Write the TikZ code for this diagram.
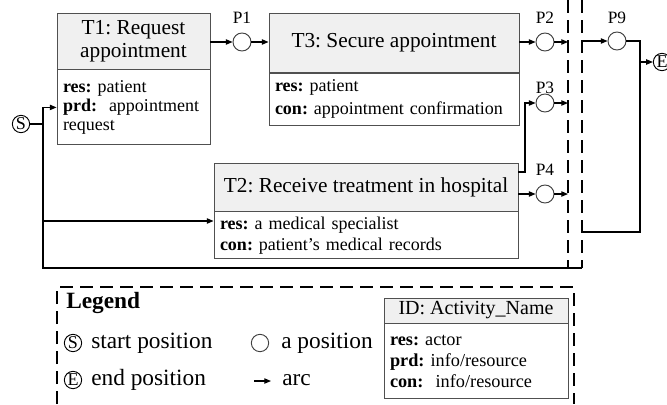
\documentclass[tikz,border=0pt]{standalone}
\usepackage{fontspec}
\setmainfont{Liberation Serif}
\usetikzlibrary{arrows.meta}
\definecolor{boxc}{HTML}{505050}
\definecolor{ttlc}{HTML}{F0F0F0}
\definecolor{posc}{HTML}{404040}
\frenchspacing
\begin{document}
\begin{tikzpicture}[x=0.75pt,y=-0.75pt,
 box/.style={draw=boxc, line width=0.7pt, inner sep=0pt, rectangle},
 ttl/.style={box, fill=ttlc, align=center, font=\fontsize{16}{17.5}\selectfont},
 bdy/.style={box, fill=white, align=left, inner xsep=4.5pt, font=\fontsize{13.5}{14.25}\selectfont},
 place/.style={circle, draw=posc, line width=0.7pt, minimum size=13.5pt, inner sep=0pt},
 ltr/.style={circle, draw=black, line width=0.7pt, minimum size=13pt, inner sep=0pt, font=\fontsize{13.5}{13.5}\selectfont},
 lbl/.style={font=\fontsize{13}{13}\selectfont, inner sep=0pt},
 leg/.style={font=\fontsize{17.5}{17.5}\selectfont, inner sep=0pt, anchor=west},
 arr/.style={line width=0.8pt, -{Triangle[length=5pt,width=4pt]}},
 ln/.style={line width=0.8pt},
 sep/.style={line width=1.5pt, dash pattern=on 9.5pt off 5.5pt}
]
\useasboundingbox (0,0) rectangle (667,404);

% T1
\node[ttl, minimum width=114.75pt, minimum height=42pt] (t1t) at (133.5,41) {T1: Request\\appointment};
\node[bdy, text width=105.75pt, minimum height=56.25pt, anchor=north] (t1b) at (t1t.south)
 {\textbf{res:} patient\\ \textbf{prd:}\ \ appointment\\ request};

% T3
\node[ttl, minimum width=187.5pt, minimum height=44.8pt] (t3t) at (394,42.85) {T3: Secure appointment};
\node[bdy, text width=178.5pt, minimum height=38.5pt, anchor=north, font=\fontsize{13.5}{17.25}\selectfont] (t3b) at (t3t.south)
 {\textbf{res:} patient\\ \textbf{con:} appointment confirmation};

% T2
\node[ttl, minimum width=228pt, minimum height=36pt] (t2t) at (366,187) {T2: Receive treatment in hospital};
\node[bdy, text width=219pt, minimum height=35.25pt, anchor=north, font=\fontsize{13.5}{15.75}\selectfont] (t2b) at (t2t.south)
 {\textbf{res:} a medical specialist\\ \textbf{con:} patient’s medical records};

% positions
\node[ltr] (S) at (21,124) {S};
\node[ltr] (E) at (662,62) {E};
\node[place] (p1) at (242,42) {};
\node[place] (p2) at (545,42) {};
\node[place] (p3) at (545,103) {};
\node[place] (p4) at (545,194) {};
\node[place] (p9) at (617,41) {};
\node[lbl] (l1) at (242,18) {P1};
\node[lbl] (l2) at (545,18) {P2};
\node[lbl] (l3) at (545,88) {P3};
\node[lbl] (l4) at (545,170) {P4};
\node[lbl] (l9) at (617,18) {P9};

% coordinates
\coordinate (j1) at (43,124);
\coordinate (j2) at (43,268);
\coordinate (j3) at (43,221);
\coordinate (d2b) at (582,268);
\coordinate (k1) at (525,172);
\coordinate (d1a) at (568,42);
\coordinate (d1c) at (568,103);
\coordinate (d1d) at (568,194);
\coordinate (d2a) at (582,41);
\coordinate (r1) at (640,41);
\coordinate (r2) at (640,232);
\coordinate (r3) at (582,232);
\coordinate (r4) at (640,62);

% separators
\draw[sep] (568,0) -- (568,268);
\draw[sep] (582,0) -- (582,268);

% connectors
\draw[ln] (S) -- (j1) -- (j2) -- (d2b);
\draw[arr] (j1) |- (t1b.west);
\draw[arr] (j3) -- (j3 -| t2b.west);
\draw[arr] (t1t.east |- p1) -- (p1);
\draw[arr] (p1) -- (p1 -| t3t.west);
\draw[arr] (t3t.east |- p2) -- (p2);
\draw[arr] (p2) -- (d1a);
\draw[arr] (k1 -| t2t.east) -- (k1) |- (p3);
\draw[arr] (p3) -- (d1c);
\draw[arr] (t2t.east |- p4) -- (p4);
\draw[arr] (p4) -- (d1d);
\draw[arr] (d2a) -- (p9);
\draw[ln] (p9) -- (r1) -- (r2) -- (r3);
\draw[arr] (r4) -- (E);

% legend
\draw[sep] (57,404) -- (57,287) -- (574,287) -- (574,404);
\node[leg, font=\bfseries\fontsize{17.5}{17.5}\selectfont] (lt) at (66,303) {Legend};
\node[ltr] (lS) at (73,343) {S};
\node[ltr] (lE) at (73,380) {E};
\node[leg] (lst) at (91,343) {start position};
\node[leg] (len) at (91,380) {end position};
\node[place, minimum size=13pt] (lp) at (260,343) {};
\node[leg] (lpt) at (281,343) {a position};
\coordinate (la1) at (254,381);
\coordinate (la2) at (271,381);
\node[leg] (lat) at (282,380) {arc};
\draw[arr] (la1) -- (la2);

\node[ttl, minimum width=138pt, minimum height=18.75pt, font=\fontsize{15}{15}\selectfont] (lgt) at (476,310.5) {ID: Activity\_Name};
\node[bdy, text width=129pt, minimum height=56.25pt, anchor=north, font=\fontsize{13.7}{16}\selectfont] (lgb) at (lgt.south)
 {\textbf{res:} actor\\ \textbf{prd:} info/resource\\ \textbf{con:}\ \ info/resource};
\end{tikzpicture}
\end{document}
